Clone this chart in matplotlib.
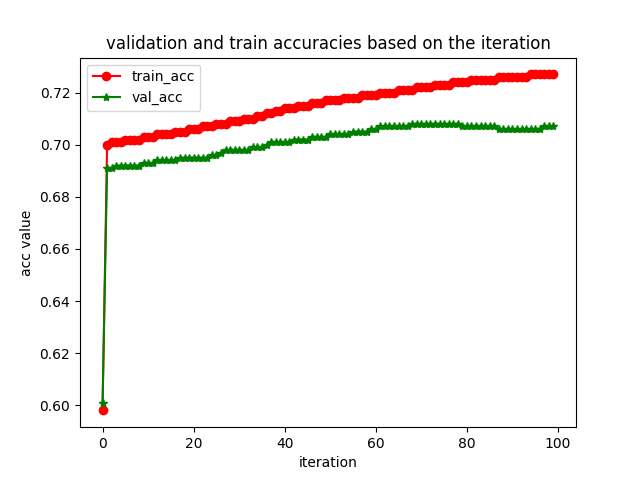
import matplotlib
matplotlib.use("Agg")
import matplotlib.pyplot as plt

train_acc = [0.598,
    0.700, 0.701, 0.701, 0.701, 0.702, 0.702, 0.702, 0.702, 0.703, 0.703,
    0.703, 0.704, 0.704, 0.704, 0.704, 0.705, 0.705, 0.705, 0.706, 0.706,
    0.706, 0.707, 0.707, 0.707, 0.708, 0.708, 0.708, 0.709, 0.709, 0.709,
    0.710, 0.710, 0.710, 0.711, 0.711, 0.712, 0.712, 0.713, 0.713, 0.714,
    0.714, 0.714, 0.715, 0.715, 0.715, 0.716, 0.716, 0.716, 0.717, 0.717,
    0.717, 0.717, 0.718, 0.718, 0.718, 0.718, 0.719, 0.719, 0.719, 0.719,
    0.720, 0.720, 0.720, 0.720, 0.721, 0.721, 0.721, 0.721, 0.722, 0.722,
    0.722, 0.722, 0.723, 0.723, 0.723, 0.723, 0.724, 0.724, 0.724, 0.724,
    0.725, 0.725, 0.725, 0.725, 0.725, 0.725, 0.726, 0.726, 0.726, 0.726,
    0.726, 0.726, 0.726, 0.727, 0.727, 0.727, 0.727, 0.727, 0.727]

val_acc = [0.601,
    0.691, 0.691, 0.692, 0.692, 0.692, 0.692, 0.692, 0.692, 0.693, 0.693,
    0.693, 0.694, 0.694, 0.694, 0.694, 0.694, 0.695, 0.695, 0.695, 0.695,
    0.695, 0.695, 0.695, 0.696, 0.696, 0.697, 0.698, 0.698, 0.698, 0.698,
    0.698, 0.698, 0.699, 0.699, 0.699, 0.700, 0.701, 0.701, 0.701, 0.701,
    0.701, 0.702, 0.702, 0.702, 0.702, 0.703, 0.703, 0.703, 0.703, 0.704,
    0.704, 0.704, 0.704, 0.704, 0.705, 0.705, 0.705, 0.705, 0.706, 0.706,
    0.707, 0.707, 0.707, 0.707, 0.707, 0.707, 0.707, 0.708, 0.708, 0.708,
    0.708, 0.708, 0.708, 0.708, 0.708, 0.708, 0.708, 0.708, 0.707, 0.707,
    0.707, 0.707, 0.707, 0.707, 0.707, 0.707, 0.706, 0.706, 0.706, 0.706,
    0.706, 0.706, 0.706, 0.706, 0.706, 0.706, 0.707, 0.707, 0.707]

iters = list(range(len(train_acc)))

fig, ax = plt.subplots(figsize=(6.4, 4.8), dpi=100)
ax.plot(iters, train_acc, 'r-o', label='train_acc')
ax.plot(iters, val_acc, 'g-*', label='val_acc')
ax.set_title('validation and train accuracies based on the iteration')
ax.set_xlabel('iteration')
ax.set_ylabel('acc value')
ax.legend(loc='upper left')
plt.savefig('out.png')
